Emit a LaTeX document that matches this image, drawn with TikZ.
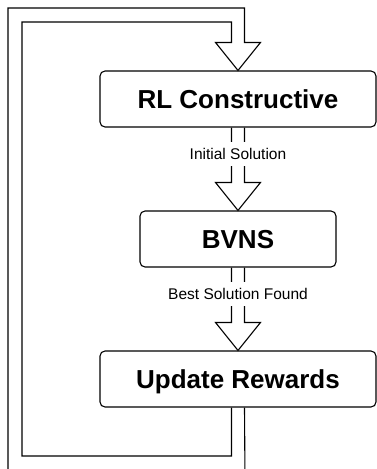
\documentclass[tikz,border=0pt]{standalone}
\usepackage{fontspec}
\setmainfont{Liberation Sans}
\usetikzlibrary{calc}
\tikzset{
  box/.style={draw, line width=1.1pt, rounded corners=5pt, minimum height=56pt,
    inner sep=0pt, font=\bfseries\fontsize{26}{31}\selectfont, text height=18.7pt, text depth=0pt},
  flow/.style={draw, line width=1.1pt, line join=miter},
  lbl/.style={fill=white, inner xsep=2pt, inner ysep=6pt, font=\fontsize{15.5}{18}\selectfont}
}
\newcommand\blockarrow[2]{%
  \draw[flow] ($(#1)+(-6.5,0)$) -- ($(#2)+(-6.5,-28)$) -- ($(#2)+(-22.5,-28)$) -- (#2)
    -- ($(#2)+(22.5,-28)$) -- ($(#2)+(6.5,-28)$) -- ($(#1)+(6.5,0)$);}
\begin{document}
\begin{tikzpicture}[x=1pt,y=-1pt]
\useasboundingbox (0,0) rectangle (377,469);
\clip (0,0) rectangle (377,469);
\node[box, minimum width=276pt] (rl) at (238,99) {RL Constructive};
\node[box, minimum width=196pt] (bv) at (238,239) {BVNS};
\node[box, minimum width=276pt] (up) at (238,379) {Update Rewards};
\blockarrow{rl.south}{bv.north}
\blockarrow{bv.south}{up.north}
\node[lbl] (l1) at (238,154) {Initial Solution};
\node[lbl] (l2) at (238,294) {Best Solution Found};
\coordinate (b1) at (245,480);
\draw[flow] ($(up.south)+(-6.5,0)$) -- (231.5,456) -- (22,456) -- (22,22) -- (231.5,22)
  -- ($(rl.north)+(-6.5,-28)$) -- ($(rl.north)+(-22.5,-28)$) -- (rl.north)
  -- ($(rl.north)+(22.5,-28)$) -- ($(rl.north)+(6.5,-28)$) -- (244.5,8) -- (8,8) -- (8,480);
\draw[flow] ($(up.south)+(6.5,0)$) -- (b1);
\end{tikzpicture}
\end{document}
